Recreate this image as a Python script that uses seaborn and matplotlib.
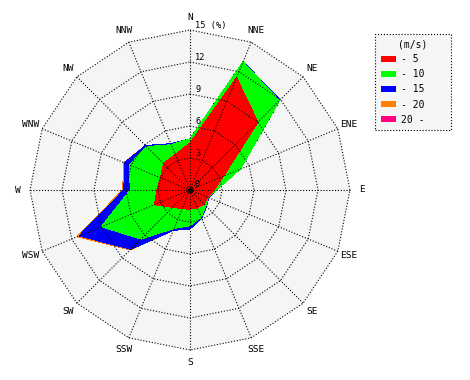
import numpy as np
import matplotlib
matplotlib.use("Agg")
import matplotlib.pyplot as plt
import seaborn as sns
from matplotlib.patches import Patch

# ---- data (cumulative frequency in %, per direction, clockwise from N) ----
directions = ["N", "NNE", "NE", "ENE", "E", "ESE", "SE", "SSE",
              "S", "SSW", "SW", "WSW", "W", "WNW", "NW", "NNW"]
speed_labels = ["- 5", "- 10", "- 15", "- 20", "20 -"]
ring_values = [3, 6, 9, 12, 15]
ring_labels = ["3", "6", "9", "12", "15 (%)"]

upto_5 = [4.4, 11.4, 9.0, 3.4, 2.25, 1.8, 1.9, 1.8,
          1.8, 1.9, 2.3, 3.6, 3.1, 3.0, 3.5, 3.6]
upto_10 = [4.8, 13.0, 11.85, 5.1, 2.45, 1.85, 2.1, 2.75,
           3.35, 3.9, 6.5, 9.0, 5.6, 6.15, 5.75, 4.6]
upto_15 = [4.8, 13.02, 11.93, 5.1, 2.45, 1.9, 2.2, 2.85,
           3.65, 4.1, 7.85, 11.25, 6.2, 6.65, 5.9, 4.7]
upto_20 = [4.8, 13.02, 11.93, 5.1, 2.45, 1.9, 2.2, 2.85,
           3.65, 4.1, 7.95, 11.45, 6.32, 6.7, 5.9, 4.7]
upto_all = [4.8, 13.02, 11.93, 5.1, 2.45, 1.9, 2.2, 2.85,
            3.65, 4.1, 7.95, 11.45, 6.32, 6.7, 5.9, 4.7]

series = [upto_5, upto_10, upto_15, upto_20, upto_all]
colors = ["#ff0000", "#00ff00", "#0000ff", "#ff8000", "#ff0080"]

sns.set_theme(style="white")
plt.rcParams["font.family"] = ["DejaVu Sans Mono", "DejaVu Sans"]
plt.rcParams["text.color"] = "black"

W, H = 470, 380
cx, cy = 190, 190
scale = 160 / 15.0  # px per %

fig = plt.figure(figsize=(W / 100, H / 100), dpi=100)
fig.patch.set_facecolor("white")
ax = fig.add_axes([0, 0, 1, 1])
ax.set_xlim(-cx / scale, (W - cx) / scale)
ax.set_ylim(-(H - cy) / scale, cy / scale)
ax.axis("off")

theta = np.deg2rad(np.arange(len(directions)) * 22.5)


def to_xy(r):
    r = np.asarray(r, dtype=float)
    return r * np.sin(theta), r * np.cos(theta)


rmax = ring_values[-1]
bx, by = to_xy(np.full(len(directions), rmax))
ax.fill(bx, by, color="#f5f5f5", lw=0, zorder=0)

for vals, col in reversed(list(zip(series, colors))):
    x, y = to_xy(vals)
    ax.fill(x, y, color=col, lw=0, zorder=1, antialiased=False)

dots = (0, (1, 1.6))
for rv in ring_values:
    x, y = to_xy(np.full(len(directions), rv))
    ax.plot(np.append(x, x[0]), np.append(y, y[0]), color="black",
            lw=0.8, ls=dots, zorder=2)
for xe, ye in zip(bx, by):
    ax.plot([0, xe], [0, ye], color="black", lw=0.8, ls=dots, zorder=2)

ax.scatter([0], [0], s=14, color="black", zorder=3, linewidths=0)
ax.text(0.45, 0.05, "0", fontsize=6.2, ha="left", va="bottom", zorder=4,
        color="black")
for rv, lab in zip(ring_values, ring_labels):
    ax.text(0.5, rv + 0.02, lab, fontsize=6.2, ha="left", va="bottom",
            zorder=4, color="black")

lx, ly = to_xy(np.full(len(directions), 16.15))
for name, x, y in zip(directions, lx, ly):
    ax.text(x, y, name, fontsize=6.8, ha="center", va="center", color="black")

handles = [Patch(facecolor=c, edgecolor="none") for c in colors]
leg_h = 97 / H
leg = ax.legend(handles, speed_labels, title="(m/s)",
                loc="upper left",
                bbox_to_anchor=(375 / W, 1 - 33.5 / H - leg_h, 76 / W, leg_h),
                mode="expand",
                bbox_transform=fig.transFigure,
                fontsize=7, title_fontsize=7, frameon=True, fancybox=False,
                handlelength=1.6, handleheight=0.5, handletextpad=0.5,
                labelspacing=0.52, borderpad=0.6, borderaxespad=0)
for t in leg.get_texts():
    t.set_color("black")
leg.get_title().set_color("black")
frame = leg.get_frame()
frame.set_facecolor("#f5f5f5")
frame.set_edgecolor("black")
frame.set_linestyle(":")
frame.set_linewidth(0.8)
frame.set_alpha(1)

fig.savefig("out.png", dpi=100, facecolor="white")
